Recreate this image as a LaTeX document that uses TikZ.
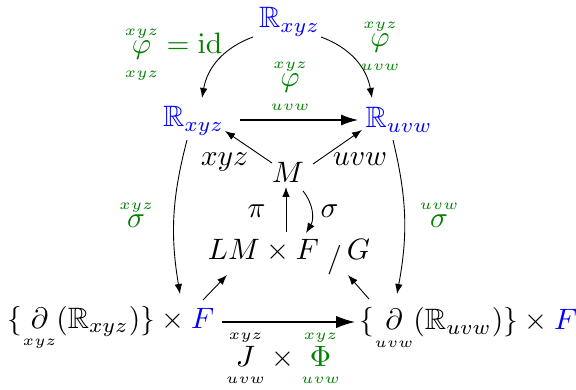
\documentclass[tikz,border=0pt]{standalone}
\usepackage{amsmath,amssymb}
\usetikzlibrary{arrows.meta,calc}
\definecolor{lblgreen}{rgb}{0,0.5,0}
\newcommand{\upl}[1]{\smash[b]{\scriptscriptstyle #1}}
\newcommand{\lol}[1]{\scriptscriptstyle #1}
\begin{document}
\begin{tikzpicture}[x=1pt,y=-1pt,
  every node/.style={scale=2.95,inner sep=0pt,anchor=base},
  obj/.style={text=blue},
  glab/.style={text=lblgreen},
  sm/.style={-{Latex[length=10pt,width=7.5pt]},line width=0.9pt},
  bgtop/.style={-{Latex[length=17pt,width=11pt]},line width=1.2pt},
  bgbot/.style={-{Latex[length=19pt,width=12.5pt]},line width=1.4pt},
]
\useasboundingbox (0,0) rectangle (576,390);
% objects
\node[obj] (Rt) at (289.5,28) {$\mathbb{R}_{xyz}$};
\node[obj] (Rx) at (193.5,127) {$\mathbb{R}_{xyz}$};
\node[obj] (Ru) at (399,128) {$\mathbb{R}_{uvw}$};
\node (M) at (288,183) {$M$};
\node (L) at (289,260) {$LM\times F\;\raisebox{-2.5pt}{$/$}\,G$};
\node (BL) at (111,328) {$\{\underset{\lol{xyz}}{\partial}(\mathbb{R}_{xyz})\}\times{\color{blue}F}$};
\node (BR) at (468.5,330) {$\{\underset{\lol{uvw}}{\partial}(\mathbb{R}_{uvw})\}\times{\color{blue}F}$};
% labels
\node[glab] (lid) at (173.5,54) {$\overset{\upl{xyz}}{\underset{\lol{xyz}}{\varphi}}=\mathrm{id}$};
\node[glab] (lru) at (380,47) {$\overset{\upl{xyz}}{\underset{\lol{uvw}}{\varphi}}$};
\node[glab] (lmid) at (290,87) {$\overset{\upl{xyz}}{\underset{\lol{uvw}}{\varphi}}$};
\node (lxyz) at (224.5,166) {$xyz$};
\node (luvw) at (360,166) {$uvw$};
\node (lpi) at (256.5,218) {$\pi$};
\node (lsig) at (329.5,218) {$\sigma$};
\node[glab] (lsx) at (136,228) {$\overset{\upl{xyz}}{\sigma}$};
\node[glab] (lsu) at (439,228) {$\overset{\upl{uvw}}{\sigma}$};
\node (lJ) at (283,366) {$\overset{\upl{xyz}}{\underset{\lol{uvw}}{J}}\times{\color{lblgreen}\overset{\upl{xyz}}{\underset{\lol{uvw}}{\Phi}}}$};
% connectors
\draw[sm] ($(Rt.base)+(-36.5,9)$) to[bend right=30] ($(Rx.base)+(8.5,-29)$);
\draw[sm] ($(Rt.base)+(31.5,9)$) to[bend left=30] ($(Ru.base)+(-27,-30)$);
\draw[bgtop] ($(Rx.base)+(46.5,-7)$) -- ($(Ru.base)+(-41,-8)$);
\draw[sm] ($(M.base)+(-16,-20)$) -- ($(Rx.base)+(31.5,4)$);
\draw[sm] ($(M.base)+(25,-19)$) -- ($(Ru.base)+(-37,2)$);
\draw[sm] ($(L.base)+(-3,-28)$) -- ($(M.base)+(-2,4)$);
\draw[sm] ($(M.base)+(15,8)$) to[bend left=35] ($(L.base)+(17,-27)$);
\draw[sm] ($(Rx.base)+(-6.5,13)$) to[bend right=12] ($(BL.base)+(69,-34)$);
\draw[sm] ($(Ru.base)+(-6,12)$) to[bend left=12] ($(BR.base)+(-71.5,-36)$);
\draw[sm] ($(BL.base)+(92,-28)$) -- ($(L.base)+(-62,15)$);
\draw[sm] ($(BR.base)+(-99.5,-31)$) -- ($(L.base)+(59,15)$);
\draw[bgbot] ($(BL.base)+(111,-6)$) -- ($(BR.base)+(-113.5,-8)$);
\end{tikzpicture}
\end{document}
